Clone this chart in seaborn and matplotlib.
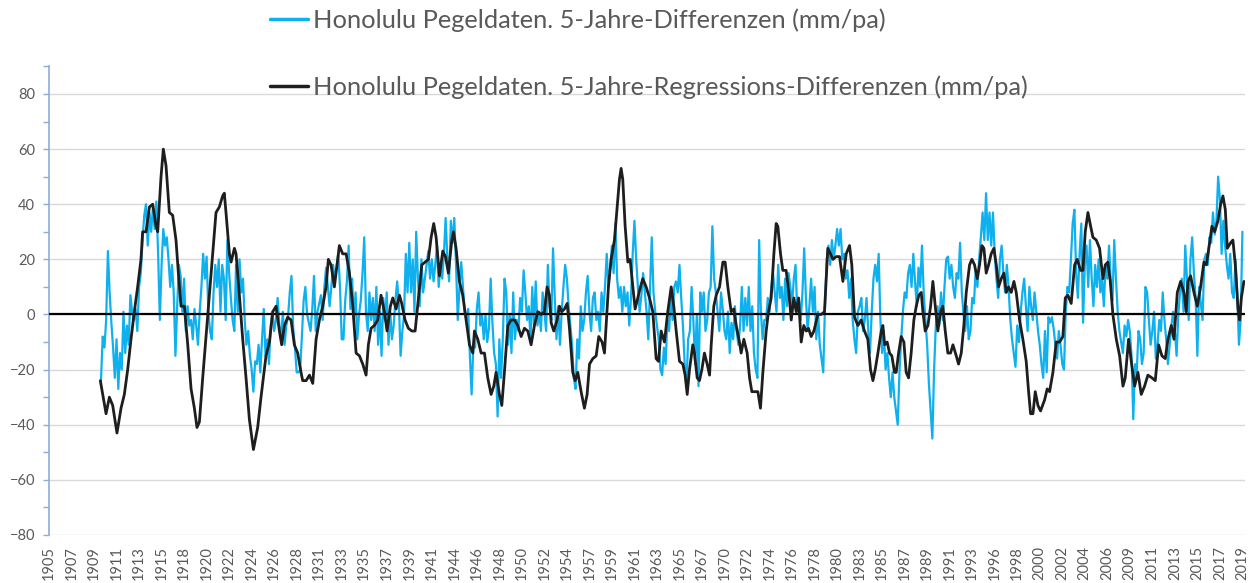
import matplotlib
matplotlib.use("Agg")
import numpy as np
import pandas as pd
import matplotlib.pyplot as plt
import seaborn as sns
from matplotlib.lines import Line2D
from matplotlib.ticker import MultipleLocator

# ---------------- data ----------------
label_blue = "Honolulu Pegeldaten. 5-Jahre-Differenzen (mm/pa)"
label_black = "Honolulu Pegeldaten. 5-Jahre-Regressions-Differenzen (mm/pa)"

tick_labels = ["1905", "1907", "1909", "1911", "1913", "1915", "1918", "1920", "1922",
               "1924", "1926", "1928", "1931", "1933", "1935", "1937", "1939", "1941",
               "1944", "1946", "1948", "1950", "1952", "1954", "1957", "1959", "1961",
               "1963", "1965", "1967", "1970", "1972", "1974", "1976", "1978", "1980",
               "1983", "1985", "1987", "1989", "1991", "1993", "1996", "1998", "2000",
               "2002", "2004", "2006", "2009", "2011", "2013", "2015", "2017", "2019"]
axis_start_year = 1905
tick_step_months = 26

# blue series: one value every two months, starting January 1910
blue_start_year = 1910
blue_vals = [
    -24, -8, -12, -2, 23, 8,     # 1910
    -3, -12, -23, -9, -27, -14,  # 1911
    -20, 1, -14, -4, -11, 7,     # 1912
    1, -2, 2, -6, 10, 15,        # 1913
    27, 36, 40, 25, 37, 30,      # 1914
    39, 31, 41, 22, -2, 18,      # 1915
    31, 25, 28, 20, 10, 18,      # 1916
    8, -15, 3, 18, 14, 1,        # 1917
    13, -6, 3, -4, -2, -9,       # 1918
    2, -4, -11, 1, 10, 22,       # 1919
    13, 21, 1, -6, -9, 8,        # 1920
    18, 10, 20, 1, 18, 13,       # 1921
    -2, 27, 15, 6, -2, -6,       # 1922
    18, 1, 20, 8, 13, -2,        # 1923
    -11, -6, -15, -20, -28, -17, # 1924
    -18, -11, -21, -9, 2, -15,   # 1925
    -9, -18, -4, 1, -6, -2,      # 1926
    6, -4, -9, 1, -11, -4,       # 1927
    -1, 8, 14, -5, -12, -21,     # 1928
    -21, -20, -8, 5, 10, 0,      # 1929
    -3, -6, 2, 14, -6, 1,        # 1930
    4, 7, -2, 10, 17, 10,        # 1931
    3, 10, 18, 13, 17, 22,       # 1932
    10, -9, -9, 5, 12, 25,       # 1933
    2, 13, -2, 8, -9, 0,         # 1934
    5, 15, 28, 1, -6, 8,         # 1935
    -2, 6, -6, 10, -11, 1,       # 1936
    -15, 6, -2, 8, -11, 1,       # 1937
    -9, -4, 5, 12, 4, -15,       # 1938
    -6, 0, 22, 8, 26, 8,         # 1939
    20, 1, 30, 13, 3, 20,        # 1940
    8, 13, 18, 23, 13, 20,       # 1941
    12, 18, 25, 10, 18, 13,      # 1942
    22, 35, 20, 12, 34, 26,      # 1943
    35, 18, -2, 10, 19, 10,      # 1944
    1, -2, 2, -15, -29, -11,     # 1945
    -12, 2, 8, -4, 0, -9,        # 1946
    0, -10, -5, 13, -3, -14,     # 1947
    -18, -37, -9, -23, -9, 13,   # 1948
    8, -11, 0, -14, 8, -9,       # 1949
    -2, -6, 6, 1, 16, 8,         # 1950
    -2, 3, -9, 10, -4, 12,       # 1951
    -4, 1, -6, 8, 1, -6,         # 1952
    18, 3, -2, 24, 6, -9,        # 1953
    3, -11, 1, 10, 18, 13,       # 1954
    3, -4, -11, -23, -27, -9,    # 1955
    -16, 3, -6, -2, 8, 14,       # 1956
    1, -6, 6, 8, -2, 1,          # 1957
    -6, 8, 1, 10, 22, 10,        # 1958
    17, 25, 15, 33, 13, 6,       # 1959
    10, 1, 10, 3, 8, -4,         # 1960
    6, 22, 34, 20, 10, 1,        # 1961
    7, 15, 8, 1, -9, 10,         # 1962
    28, 8, 1, -4, -9, -20,       # 1963
    -22, -12, -18, -2, -6, 6,    # 1964
    -2, 10, 12, 8, 18, 6,        # 1965
    -4, -18, -26, -9, -6, 10,    # 1966
    -2, -18, 0, -26, 8, 1,       # 1967
    8, -6, -2, 8, 10, 32,        # 1968
    13, 8, 1, -6, 8, 2,          # 1969
    -6, -9, 1, -14, -3, -9,      # 1970
    3, -6, -11, -4, 10, -6,      # 1971
    6, -4, 10, -6, 3, -14,       # 1972
    -20, -23, 27, 1, -9, -2,     # 1973
    -2, 6, 1, 10, 15, 8,         # 1974
    1, 18, 6, 10, -2, 13,        # 1975
    3, 15, 10, 3, 13, 18,        # 1976
    1, 6, -2, 8, 24, 6,          # 1977
    -6, 3, 13, 1, 10, -9,        # 1978
    1, -11, -16, -21, 3, 20,     # 1979
    25, 18, 27, 20, 25, 31,      # 1980
    25, 31, 20, 22, 13, 16,      # 1981
    6, 13, -2, -9, -14, 1,       # 1982
    3, 6, -6, -2, 6, -6,         # 1983
    -14, 1, 13, 18, 12, 22,      # 1984
    -2, -14, -6, -20, -14, -23,  # 1985
    -30, -21, -30, -35, -40, -21,# 1986
    -9, 1, 8, 6, 15, 18,         # 1987
    10, 22, 12, 3, 17, 10,       # 1988
    25, 8, -2, -11, -25, -35,    # 1989
    -45, -20, -4, 3, -4, 8,      # 1990
    -2, 10, 20, 21, 13, 18,      # 1991
    10, 6, 15, 13, 26, 8,        # 1992
    0, -6, 3, -9, -6, 6,         # 1993
    4, 16, 10, 20, 28, 37,       # 1994
    27, 44, 27, 37, 25, 37,      # 1995
    22, 13, 6, 20, 25, 15,       # 1996
    8, 18, 10, -2, -9, -14,      # 1997
    -19, -4, -10, 1, 8, 13,      # 1998
    3, -6, 10, 3, -2, 8,         # 1999
    1, -6, -11, -18, -23, -6,    # 2000
    -21, -1, -3, -1, -5, -11,    # 2001
    -16, -6, -11, -18, -20, 1,   # 2002
    10, 8, 20, 33, 38, 15,       # 2003
    6, 22, 33, -3, 18, 25,       # 2004
    10, 27, 13, 3, 18, 10,       # 2005
    20, 8, 13, 3, 18, 13,        # 2006
    25, 12, 5, 27, 13, 1,        # 2007
    -6, -10, -14, -4, -8, -2,    # 2008
    -6, -15, -38, -18, -21, -6,  # 2009
    -9, -18, -14, 10, 8, -2,     # 2010
    -11, -6, 1, -16, -11, -2,    # 2011
    -6, 8, -2, -9, -18, -11,     # 2012
    -4, 1, -6, -15, 0, 8,        # 2013
    13, 1, 25, 13, -2, 20,       # 2014
    28, 15, 6, -15, 10, 4,       # 2015
    -2, 20, 22, 18, 28, 26,      # 2016
    37, 29, 34, 50, 42, 22,      # 2017
    34, 25, 18, 13, 22, 8,       # 2018
    6, 20, 8, -11, -2, 30,       # 2019
]

# black series: (decimal year, value) readings
black_years = [
    1909.94, 1910.49, 1910.81, 1911.13, 1911.54, 1911.93, 1912.25, 1912.57, 1912.89, 1913.21,
    1913.53, 1913.85, 1914.01, 1914.34, 1914.66, 1914.98, 1915.30, 1915.46, 1915.78, 1916.00,
    1916.26, 1916.58, 1916.90, 1917.22, 1917.45, 1917.70, 1918.02, 1918.35, 1918.67, 1918.99,
    1919.24, 1919.47, 1919.79, 1920.11, 1920.43, 1920.75, 1921.07, 1921.39, 1921.71, 1921.87,
    1922.03, 1922.36, 1922.52, 1922.84, 1923.00, 1923.32, 1923.64, 1923.96, 1924.28, 1924.67,
    1925.08, 1925.40, 1925.72, 1925.88, 1926.21, 1926.53, 1926.85, 1927.17, 1927.39, 1927.65,
    1927.97, 1928.29, 1928.61, 1928.93, 1929.25, 1929.41, 1929.74, 1930.06, 1930.38, 1930.54,
    1930.70, 1931.02, 1931.34, 1931.66, 1931.88, 1932.14, 1932.46, 1932.72, 1932.94, 1933.26,
    1933.59, 1933.91, 1934.23, 1934.55, 1934.87, 1935.19, 1935.51, 1935.73, 1935.99, 1936.31,
    1936.63, 1936.95, 1937.27, 1937.53, 1937.85, 1938.08, 1938.40, 1938.72, 1938.94, 1939.26,
    1939.58, 1939.91, 1940.23, 1940.55, 1940.87, 1941.19, 1941.51, 1941.77, 1942.02, 1942.25,
    1942.57, 1942.89, 1943.15, 1943.43, 1943.76, 1943.92, 1944.17, 1944.49, 1944.81, 1945.14,
    1945.46, 1945.78, 1945.94, 1946.26, 1946.58, 1946.90, 1947.22, 1947.54, 1947.80, 1948.02,
    1948.34, 1948.57, 1948.82, 1949.15, 1949.47, 1949.79, 1950.11, 1950.43, 1950.75, 1951.07,
    1951.39, 1951.71, 1952.03, 1952.35, 1952.67, 1952.93, 1953.15, 1953.32, 1953.57, 1953.89,
    1954.12, 1954.34, 1954.60, 1954.86, 1955.08, 1955.40, 1955.63, 1955.88, 1956.20, 1956.52,
    1956.78, 1957.01, 1957.33, 1957.65, 1957.90, 1958.22, 1958.45, 1958.61, 1958.83, 1959.09,
    1959.41, 1959.67, 1959.89, 1960.05, 1960.21, 1960.44, 1960.70, 1960.92, 1961.18, 1961.40,
    1961.66, 1961.91, 1962.14, 1962.46, 1962.78, 1963.10, 1963.42, 1963.65, 1963.90, 1964.22,
    1964.54, 1964.87, 1965.12, 1965.35, 1965.67, 1965.99, 1966.21, 1966.41, 1966.63, 1966.95,
    1967.11, 1967.37, 1967.59, 1967.82, 1968.07, 1968.33, 1968.56, 1968.72, 1968.97, 1969.20,
    1969.52, 1969.84, 1970.06, 1970.32, 1970.64, 1970.90, 1971.12, 1971.44, 1971.60, 1971.86,
    1972.18, 1972.41, 1972.63, 1972.95, 1973.21, 1973.46, 1973.69, 1974.01, 1974.23, 1974.49,
    1974.75, 1974.97, 1975.13, 1975.39, 1975.61, 1975.93, 1976.19, 1976.42, 1976.67, 1976.90,
    1977.12, 1977.38, 1977.63, 1977.86, 1978.08, 1978.34, 1978.60, 1978.98, 1979.30, 1979.62,
    1979.94, 1980.20, 1980.43, 1980.75, 1981.07, 1981.39, 1981.71, 1982.03, 1982.25, 1982.51,
    1982.83, 1983.15, 1983.47, 1983.79, 1984.05, 1984.28, 1984.50, 1984.76, 1985.08, 1985.24,
    1985.40, 1985.65, 1985.88, 1986.10, 1986.36, 1986.52, 1986.75, 1987.00, 1987.26, 1987.48,
    1987.71, 1987.96, 1988.22, 1988.45, 1988.70, 1988.93, 1989.09, 1989.31, 1989.57, 1989.83,
    1990.05, 1990.28, 1990.53, 1990.79, 1991.01, 1991.24, 1991.49, 1991.75, 1991.98, 1992.30,
    1992.52, 1992.78, 1993.03, 1993.26, 1993.58, 1993.80, 1994.06, 1994.32, 1994.54, 1994.77,
    1994.96, 1995.18, 1995.41, 1995.66, 1995.92, 1996.15, 1996.37, 1996.63, 1996.88, 1997.11,
    1997.33, 1997.59, 1997.85, 1998.07, 1998.39, 1998.71, 1999.03, 1999.26, 1999.45, 1999.68,
    1999.90, 2000.16, 2000.41, 2000.80, 2001.05, 2001.28, 2001.60, 2001.92, 2002.24, 2002.56,
    2002.79, 2003.04, 2003.36, 2003.69, 2003.94, 2004.26, 2004.49, 2004.71, 2004.97, 2005.23,
    2005.45, 2005.77, 2006.09, 2006.41, 2006.64, 2006.89, 2007.12, 2007.37, 2007.70, 2008.02,
    2008.34, 2008.56, 2008.88, 2009.14, 2009.46, 2009.78, 2010.10, 2010.42, 2010.74, 2011.13,
    2011.45, 2011.77, 2012.09, 2012.41, 2012.67, 2012.99, 2013.25, 2013.57, 2013.89, 2014.21,
    2014.43, 2014.59, 2014.85, 2015.17, 2015.49, 2015.81, 2016.13, 2016.36, 2016.68, 2016.90,
    2017.16, 2017.48, 2017.74, 2017.96, 2018.19, 2018.38, 2018.70, 2018.92, 2019.15, 2019.41,
    2019.57, 2019.73, 2019.98,
]
black_vals = [
    -24, -36, -30, -33, -43, -34, -29, -20, -9, 1,
    10, 20, 30, 30, 39, 40, 32, 30, 50, 60,
    54, 37, 36, 27, 15, 3, 3, -11, -27, -34,
    -41, -39, -23, -8, 7, 22, 37, 39, 43, 44,
    37, 22, 19, 24, 22, 7, -9, -23, -38, -49,
    -41, -30, -20, -15, -10, 1, 3, -6, -11, -4,
    -1, -2, -11, -14, -21, -24, -24, -22, -25, -17,
    -9, -2, 3, 10, 20, 18, 10, 18, 25, 22,
    22, 15, 3, -14, -15, -18, -22, -11, -5, -4,
    -2, 7, 1, -6, 3, 6, 2, 7, 4, -2,
    -5, -6, -6, 6, 18, 19, 20, 28, 33, 28,
    14, 23, 21, 15, 27, 30, 24, 12, 7, -2,
    -11, -14, -6, -9, -14, -14, -23, -29, -26, -21,
    -29, -33, -21, -4, -2, -2, -4, -8, -5, -6,
    -11, -4, 1, 0, 1, 10, 7, -3, -6, -2,
    3, 1, 2, 4, -5, -21, -24, -21, -28, -34,
    -29, -18, -16, -15, -8, -10, -14, -4, 10, 20,
    27, 39, 49, 53, 49, 32, 19, 20, 10, 2,
    6, 10, 13, 10, 6, 1, -16, -17, -6, -10,
    1, 10, 3, -6, -17, -18, -22, -29, -20, -11,
    -14, -23, -24, -20, -14, -18, -22, -11, 3, 7,
    10, 19, 19, 10, 1, 2, -4, -10, -14, -9,
    -14, -23, -28, -28, -28, -34, -21, -6, 1, 6,
    22, 33, 32, 22, 16, 16, 8, -2, 6, 1,
    6, -10, -4, -6, -5, -8, -6, 0, 0, 1,
    24, 22, 20, 21, 21, 12, 22, 25, 18, -1,
    -4, -2, -6, -9, -20, -24, -20, -14, -6, -4,
    -11, -10, -14, -15, -21, -21, -14, -8, -10, -21,
    -23, -14, -2, 3, 7, 8, 1, -6, -4, 3,
    12, 3, -6, 1, 3, -6, -14, -14, -11, -15,
    -18, -14, -4, 8, 18, 20, 18, 13, 18, 25,
    24, 15, 18, 22, 24, 18, 10, 13, 15, 8,
    10, 8, 12, 8, -2, -9, -17, -28, -36, -36,
    -28, -33, -35, -31, -27, -28, -21, -10, -10, -8,
    6, 7, 4, 18, 20, 16, 16, 30, 37, 32,
    28, 27, 24, 13, 18, 19, 12, 0, -9, -15,
    -26, -23, -9, -17, -26, -21, -29, -26, -22, -23,
    -24, -11, -15, -16, -9, -4, -9, 8, 12, 8,
    1, 12, 14, 8, 3, 10, 19, 18, 26, 32,
    30, 34, 40, 43, 38, 24, 26, 27, 18, 2,
    -2, 6, 12,
]

# ---------------- frames ----------------
blue_df = pd.DataFrame({
    "month": (blue_start_year - axis_start_year) * 12 + 2 * np.arange(len(blue_vals)),
    "value": blue_vals,
})
black_df = pd.DataFrame({
    "month": (np.array(black_years) - axis_start_year) * 12,
    "value": black_vals,
})

# ---------------- style ----------------
sns.set_style("white")
plt.rcParams["font.family"] = ["Lato", "DejaVu Sans"]

W, H = 1251, 583
fig = plt.figure(figsize=(W / 100, H / 100), dpi=100)
ax = fig.add_axes([49 / W, 48 / H, (1245 - 49) / W, (535 - 66.4) / H])

blue_c = "#0FB0EE"
black_c = "#1E1E1E"
grey_txt = "#595959"
axis_c = "#8FAADC"

sns.lineplot(data=blue_df, x="month", y="value", ax=ax, color=blue_c, lw=1.6,
             estimator=None, sort=False, legend=False, zorder=3)
ax.axhline(0, color="black", lw=1.6, zorder=4)
sns.lineplot(data=black_df, x="month", y="value", ax=ax, color=black_c, lw=2.0,
             estimator=None, sort=False, legend=False, zorder=5)

ax.set_xlim(0, 1381)
ax.set_ylim(-80, 90)
ax.set_yticks(range(-80, 81, 20))
ax.yaxis.set_minor_locator(MultipleLocator(10))
ax.yaxis.grid(True, which="major", color="#D9D9D9", lw=1.0)
ax.set_axisbelow(True)

ax.set_xticks([i * tick_step_months for i in range(len(tick_labels))])
ax.set_xticklabels(tick_labels, rotation=90)
ax.tick_params(axis="x", length=0, pad=8, labelsize=10.5, labelcolor=grey_txt)
ax.tick_params(axis="y", which="both", left=True, direction="out", color=axis_c,
               labelsize=10.5, labelcolor=grey_txt, pad=6)
ax.tick_params(axis="y", which="major", length=4, width=1)
ax.tick_params(axis="y", which="minor", length=4, width=1)
ax.set_xlabel("")
ax.set_ylabel("")

for s in ["top", "right", "bottom"]:
    ax.spines[s].set_visible(False)
ax.spines["left"].set_color(axis_c)
ax.spines["left"].set_linewidth(1.2)

# legends
h_blue = Line2D([], [], color=blue_c, lw=2.5)
h_black = Line2D([], [], color=black_c, lw=2.5)
leg_kw = dict(loc="center left", frameon=False, fontsize=18.3, handlelength=1.5,
              handletextpad=0.2, borderpad=0, borderaxespad=0)
leg1 = fig.legend(handles=[h_blue], labels=[label_blue],
                  bbox_to_anchor=(270 / W, 1 - 20 / H), **leg_kw)
leg2 = fig.legend(handles=[h_black], labels=[label_black],
                  bbox_to_anchor=(270 / W, 1 - 87 / H), **leg_kw)
for lg in (leg1, leg2):
    for t in lg.get_texts():
        t.set_color(grey_txt)

fig.savefig("out.png", dpi=100)
